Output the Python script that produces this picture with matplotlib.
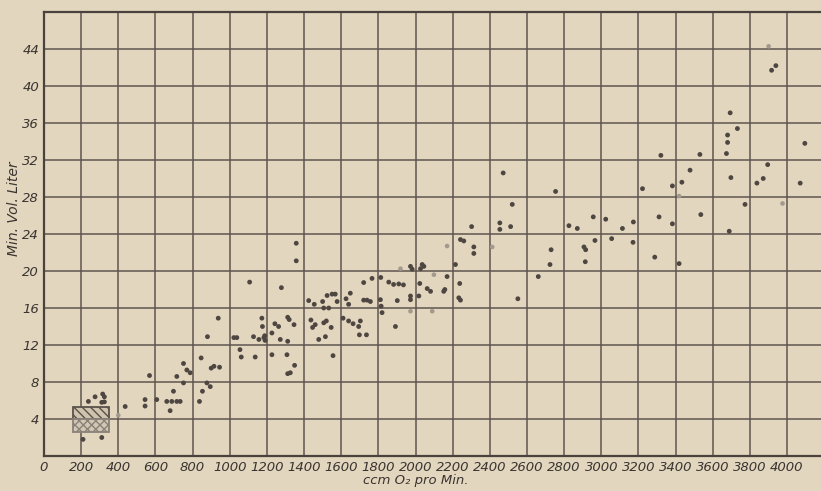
import matplotlib
matplotlib.use("Agg")
import matplotlib.pyplot as plt
from matplotlib.patches import Rectangle
from matplotlib.ticker import MultipleLocator

# O2 uptake (ccm/min) vs. minute volume (liter)
o2_dark = [239, 275, 316, 325, 311, 325, 210, 311,
           437, 544, 544, 568, 607, 661, 688, 715, 733, 679, 697, 715, 751, 769, 787, 751,
           837, 853, 877, 895, 846, 880, 938, 900, 915, 945,
           1022, 1038, 1055, 1062, 1107, 1137, 1128, 1157, 1173, 1176, 1184, 1190, 1188,
           1227, 1227, 1243, 1263, 1272, 1278, 1312, 1320, 1312, 1308, 1346, 1349, 1312, 1326,
           1358, 1358,
           1425, 1455, 1437, 1446, 1460, 1479, 1500, 1524, 1551, 1506, 1533, 1515, 1506, 1520,
           1546, 1556,
           1568, 1578, 1626, 1640, 1649, 1610, 1640, 1664, 1694, 1703, 1698, 1736,
           1721, 1766, 1813, 1856, 1882, 1910, 1935, 1721, 1739, 1757, 1811, 1815, 1820, 1892, 1902,
           1973, 1973, 2018, 2023, 2063, 2081, 2152, 2158, 1973, 1982, 2036, 2045, 2027,
           2215, 2170, 2233, 2242, 2238, 2242, 2260, 2302, 2314, 2314, 2454, 2454, 2512,
           2472, 2521, 2551, 2661, 2724, 2730, 2754, 2826, 2871, 2907, 2916, 2914,
           2957, 3024, 2966, 3056, 3114, 3173, 3171, 3222, 3288, 3311, 3321, 3383, 3383, 3419,
           3434, 3478, 3531, 3536, 3674, 3680, 3680, 3694, 3733, 3698, 3689, 3774,
           3838, 3872, 3896, 3917, 3940, 4071, 4096]
vol_dark = [5.9, 6.4, 6.7, 6.4, 5.8, 5.85, 1.8, 2.0,
            5.35, 5.4, 6.1, 8.7, 6.1, 5.9, 5.9, 5.9, 5.9, 4.9, 7.0, 8.6, 10.0, 9.3, 9.0, 7.9,
            5.9, 7.0, 7.9, 7.5, 10.6, 12.9, 14.9, 9.5, 9.7, 9.6,
            12.8, 12.8, 11.5, 10.7, 18.8, 10.7, 12.9, 12.6, 14.9, 14.0, 12.8, 12.5, 13.0,
            13.3, 10.95, 14.3, 14.0, 12.6, 18.2, 15.0, 14.75, 12.4, 10.95, 14.2, 9.8, 8.9, 9.0,
            21.1, 23.0,
            16.8, 16.4, 14.7, 13.9, 14.2, 12.6, 16.7, 17.35, 17.5, 16.0, 16.0, 12.9, 14.4, 14.6,
            13.9, 10.85,
            17.5, 16.7, 17.0, 16.4, 17.6, 14.9, 14.6, 14.3, 14.0, 14.6, 13.1, 13.1,
            18.75, 19.2, 19.3, 18.8, 18.55, 18.6, 18.5, 16.85, 16.85, 16.7, 16.9, 16.2, 15.5, 14.0, 16.8,
            17.3, 16.9, 17.3, 18.65, 18.1, 17.8, 17.8, 18.0, 20.5, 20.2, 20.7, 20.5, 20.25,
            20.7, 19.4, 17.1, 16.85, 18.65, 23.4, 23.25, 24.8, 22.6, 21.9, 25.2, 24.5, 24.8,
            30.6, 27.2, 17.0, 19.4, 20.7, 22.3, 28.6, 24.9, 24.6, 22.6, 22.3, 21.0,
            25.85, 25.6, 23.3, 23.5, 24.6, 25.3, 23.1, 28.9, 21.5, 25.85, 32.5, 29.2, 25.1, 20.8,
            29.6, 30.9, 32.6, 26.1, 32.7, 33.9, 34.7, 37.1, 35.4, 30.1, 24.3, 27.2,
            29.5, 30.0, 31.5, 41.7, 42.2, 29.5, 33.8]

o2_faint = [400, 1919, 2099, 2170, 2413, 3901, 3976, 1973, 2090, 3419]
vol_faint = [4.4, 20.25, 19.6, 22.7, 22.6, 44.3, 27.3, 15.65, 15.65, 28.1]

# shaded resting range: x0, x1, y_low, y_mid, y_high
rest_box = [155, 352, 2.6, 4.0, 5.35]

x_ticks = list(range(0, 4001, 200))
y_ticks = list(range(4, 45, 4))

paper = '#e3d6bf'
ink = '#4e4640'
fam = ['Liberation Sans Narrow', 'DejaVu Sans']

fig = plt.figure(figsize=(8.21, 4.91), dpi=100, facecolor=paper)
ax = fig.add_axes([44 / 821, 35 / 491, 777 / 821, 444 / 491])
ax.set_facecolor(paper)

ax.set_xlim(0, 4183)
ax.set_ylim(0, 48)
ax.xaxis.set_major_locator(MultipleLocator(200))
ax.yaxis.set_major_locator(MultipleLocator(4))
ax.grid(True, color='#5e5650', lw=1.1)
ax.set_axisbelow(True)

ax.set_xticks(x_ticks)
ax.set_xticklabels([str(v) for v in x_ticks], family=fam, style='italic', fontsize=9.5, color='#3a3430')
ax.set_yticks(y_ticks)
ax.set_yticklabels([str(v) for v in y_ticks], family=fam, style='italic', fontsize=9.5, color='#3a3430')
ax.tick_params(length=0, pad=3.5)

for s in ['left', 'bottom', 'top']:
    ax.spines[s].set_color('#4a433d')
    ax.spines[s].set_linewidth(1.6)
ax.spines['right'].set_visible(False)

# hatched resting box
x0, x1, ylo, ymid, yhi = rest_box
ax.add_patch(Rectangle((x0, ymid), x1 - x0, yhi - ymid, facecolor='#cfc3ae',
                       edgecolor='#5a524b', hatch='\\\\\\\\', lw=1.3, zorder=3))
ax.add_patch(Rectangle((x0, ylo), x1 - x0, ymid - ylo, facecolor='#d2c7b4',
                       edgecolor='#8a8178', hatch='xxxx', lw=1.3, zorder=3))

ax.scatter(o2_faint, vol_faint, s=11, color='#a39a8e', edgecolors='none', zorder=4)
ax.scatter(o2_dark, vol_dark, s=12, color=ink, edgecolors='none', zorder=5)

ax.set_xlabel('ccm O₂ pro Min.', family=fam, style='italic', fontsize=9.5, color='#3a3430')
ax.set_ylabel('Min. Vol. Liter', family=fam, style='italic', fontsize=10, color='#3a3430')
ax.yaxis.set_label_coords(-0.029, 0.556)
ax.xaxis.set_label_coords(0.478, -0.041)

plt.savefig('out.png', dpi=100, facecolor=paper)
